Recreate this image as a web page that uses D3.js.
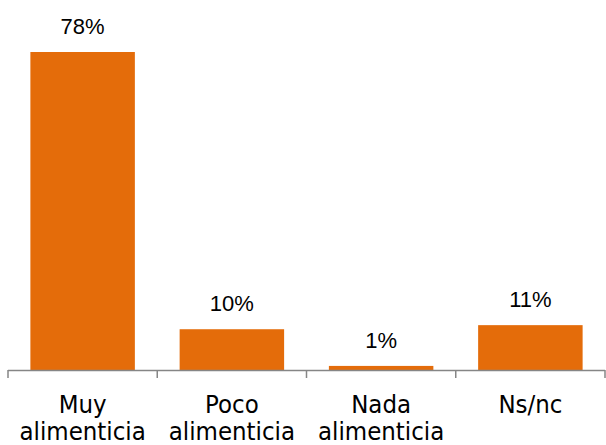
<!DOCTYPE html>
<html><head><meta charset="utf-8">
<script src="https://cdn.jsdelivr.net/npm/d3@7"></script>
<style>body{margin:0;background:#fff}svg{display:block}</style>
</head><body>
<svg id="c" width="606" height="445"></svg>
<script>
const categories = [["Muy","alimenticia"],["Poco","alimenticia"],["Nada","alimenticia"],["Ns/nc"]];
const values = [78, 10, 1, 11];
const valueLabels = ["78%","10%","1%","11%"];

const svg = d3.select("#c");
const x = d3.scaleBand().domain(d3.range(categories.length)).range([8, 605]).paddingInner(0.3).paddingOuter(0.15);
const y = d3.scaleLinear().domain([0, 78]).range([370, 52]);

svg.selectAll("rect.bar").data(values).join("rect")
  .attr("class","bar")
  .attr("x",(d,i)=>x(i)).attr("width",x.bandwidth())
  .attr("y",d=>y(d)).attr("height",d=>y(0)-y(d))
  .attr("fill","#E46C0A");

// axis
const bounds = d3.range(categories.length+1).map(i => 8 + i*(597/categories.length));
svg.append("line").attr("x1",8).attr("x2",605).attr("y1",370.5).attr("y2",370.5)
  .attr("stroke","#868686").attr("stroke-width",1.5);
svg.selectAll("line.tick").data(bounds).join("line").attr("class","tick")
  .attr("x1",d=>d).attr("x2",d=>d).attr("y1",370).attr("y2",378)
  .attr("stroke","#868686").attr("stroke-width",1.5);

svg.selectAll("text.val").data(values).join("text").attr("class","val")
  .attr("x",(d,i)=>x(i)+x.bandwidth()/2).attr("y",d=>y(d)-18)
  .attr("text-anchor","middle").attr("font-family","Liberation Sans, Arial, sans-serif")
  .attr("font-size",22).attr("fill","#000").text((d,i)=>valueLabels[i]);

const lab = svg.selectAll("text.cat").data(categories).join("text").attr("class","cat")
  .attr("text-anchor","middle").attr("font-family","DejaVu Sans Condensed, DejaVu Sans, sans-serif")
  .attr("font-size",25.5).attr("fill","#000");
lab.selectAll("tspan").data((d,i)=>d.map(t=>({t,i}))).join("tspan")
  .attr("x",d=>x(d.i)+x.bandwidth()/2).attr("y",(d,j)=>413+j*27).text(d=>d.t);
</script>
</body></html>
